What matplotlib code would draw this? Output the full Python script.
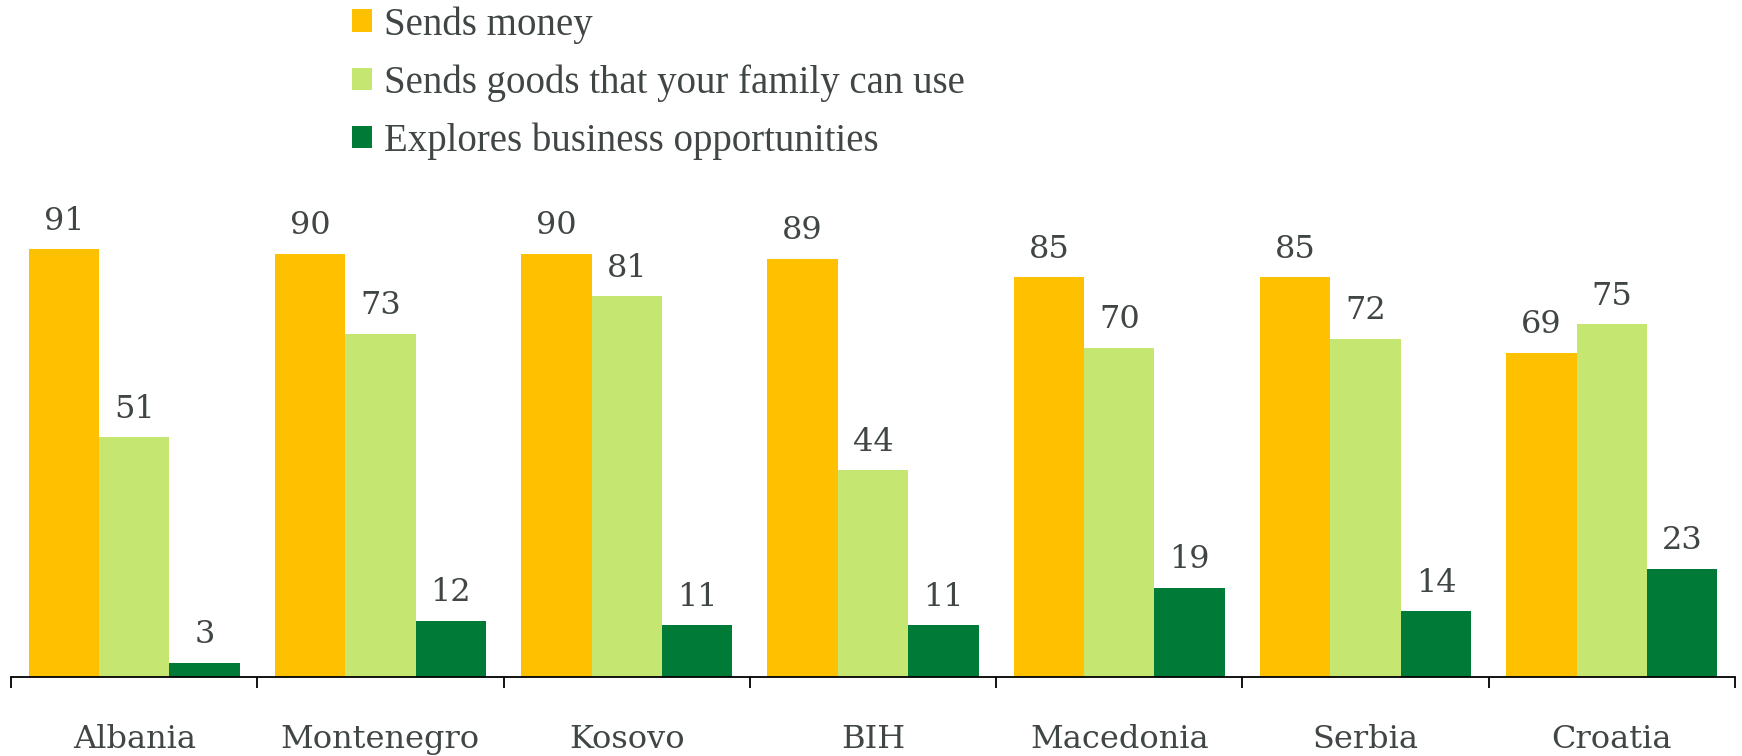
import numpy as np
import matplotlib.pyplot as plt
from matplotlib import font_manager

# countries and the three series (percent)
countries = ['Albania', 'Montenegro', 'Kosovo', 'BIH', 'Macedonia', 'Serbia', 'Croatia']
money = [91, 90, 90, 89, 85, 85, 69]
goods = [51, 73, 81, 44, 70, 72, 75]
business = [3, 12, 11, 11, 19, 14, 23]
series_names = ['Sends money', 'Sends goods that your family can use', 'Explores business opportunities']
colours = ['#FFC000', '#C5E671', '#007A37']

txt = '#404545'
names = {f.name for f in font_manager.fontManager.ttflist}
serif = 'DejaVu Serif'
legend_font = 'DejaVu Serif Condensed' if 'DejaVu Serif Condensed' in names else 'Liberation Serif'

fig = plt.figure(figsize=(17.42, 7.56), dpi=100)
ax = fig.add_axes([11/1742, 79/756, 1724/1742, 470/756])

x = np.arange(len(countries))
w = 1/3.5
bars = []
for i, (vals, col) in enumerate(zip([money, goods, business], colours)):
    b = ax.bar(x + (i-1)*w, vals, width=w, color=col, label=series_names[i])
    ax.bar_label(b, padding=9, fontsize=23, color=txt, family=serif)
    bars.append(b)

ax.set_xlim(-0.5, len(countries)-0.5)
ax.set_ylim(0, 100)
ax.set_yticks([])
for s in ['top', 'right', 'left']:
    ax.spines[s].set_visible(False)
ax.spines['bottom'].set_linewidth(1.3)

ax.set_xticks(x)
ax.set_xticklabels(countries, fontsize=23, color=txt, family=serif)
ax.tick_params(axis='x', which='major', length=0, pad=34)
ax.set_xticks(np.arange(-0.5, len(countries)), minor=True)
ax.tick_params(axis='x', which='minor', length=8, width=1.3, color='black')

leg = fig.legend(handles=bars, labels=series_names, loc='upper left',
                 bbox_to_anchor=(352/1742, 1 - 6/756), frameon=False,
                 prop={'family': legend_font, 'size': 28},
                 handlelength=0.52, handleheight=0.52, handletextpad=0.3,
                 labelspacing=0.53, borderaxespad=0.0, borderpad=0.0)
for t in leg.get_texts():
    t.set_color(txt)

fig.savefig('out.png', dpi=100)
